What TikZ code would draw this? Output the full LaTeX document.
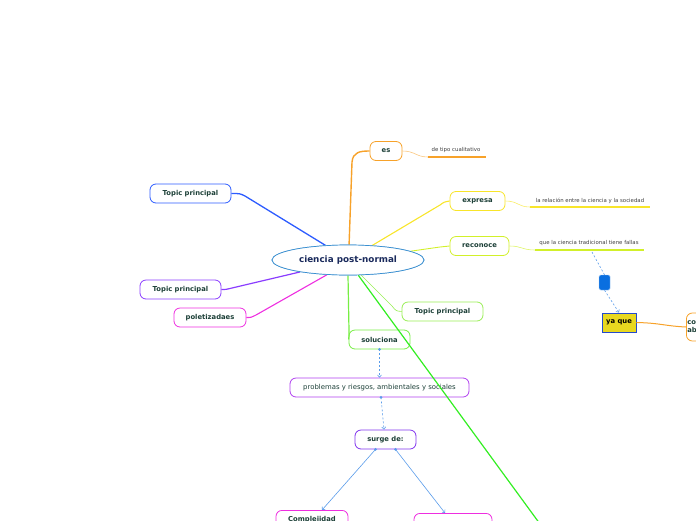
\documentclass[tikz,border=0pt]{standalone}
\usepackage{fontspec}
\setmainfont{DejaVu Sans}
\usetikzlibrary{shapes.geometric,arrows.meta}
\definecolor{txt}{HTML}{1D4038}
\definecolor{navy}{HTML}{1A2A5C}
\definecolor{cblue}{HTML}{3A8FD0}
\definecolor{corange}{HTML}{F7A22A}
\definecolor{cyellow}{HTML}{F8E52A}
\definecolor{clime}{HTML}{D2F02A}
\definecolor{ctblue}{HTML}{2D5CFF}
\definecolor{cpurple}{HTML}{8A3CFF}
\definecolor{cmag}{HTML}{EE2EE0}
\definecolor{cgreenl}{HTML}{99EE55}
\definecolor{cgreen}{HTML}{77EE44}
\definecolor{cgreenb}{HTML}{33EE22}
\definecolor{cviolet}{HTML}{B03FF0}
\definecolor{cviolet2}{HTML}{8033EE}
\definecolor{dblue}{HTML}{5A9CEA}
\definecolor{bbfill}{HTML}{0A6FE0}
\definecolor{ybox}{HTML}{E8D820}
\tikzset{
  topic/.style={draw, rounded corners=6pt, line width=0.8pt, fill=white, minimum height=19pt,
    inner sep=1pt, font=\fontsize{6.8}{8}\selectfont\bfseries, text=txt},
  desc/.style={inner sep=0pt, font=\fontsize{5.4}{6.5}\selectfont, text=black!75},
  centre/.style={ellipse, draw=cblue, line width=0.7pt, fill=white, minimum width=152pt, minimum height=30pt,
    inner sep=0pt, font=\fontsize{8.8}{10}\selectfont\bfseries, text=navy},
  dconn/.style={draw=dblue, dashed, dash pattern=on 2pt off 2pt, line width=0.6pt},
  dotmark/.style={circle, fill=dblue, inner sep=0pt, minimum size=3pt},
  tiparrow/.style={-{Straight Barb[length=2.2pt,width=4pt]}}
}
\begin{document}
\begin{tikzpicture}[x=1pt,y=-1pt]
\useasboundingbox (0,0) rectangle (696,520);
\clip (0,0) rectangle (696,520);
\node[centre] (c) at (348,260) {ciencia post-normal};
\node[topic, draw=corange, minimum width=32pt] (es) at (386,151) {es};
\node[topic, draw=cyellow, minimum width=55pt] (ex) at (477.5,201) {expresa};
\node[topic, draw=clime, minimum width=59pt] (re) at (479.5,246) {reconoce};
\node[topic, draw=ctblue, minimum width=81pt] (tp1) at (190.5,193.5) {Topic principal};
\node[topic, draw=cpurple, minimum width=81pt] (tp2) at (180.5,289.5) {Topic principal};
\node[topic, draw=cmag, minimum width=72pt] (pol) at (210,317.5) {poletizadaes};
\node[topic, draw=cgreenl, minimum width=81pt] (tp3) at (442.5,311.5) {Topic principal};
\node[topic, draw=cgreen, minimum width=61pt] (sol) at (379.5,339.5) {soluciona};
\node[topic, draw=cviolet, minimum width=179pt, font=\fontsize{6.9}{8}\selectfont] (prob) at (379.5,387.5) {problemas y riesgos, ambientales y sociales};
\node[topic, draw=cviolet2, minimum width=61pt] (sur) at (385.5,439.5) {surge de:};
\node[topic, draw=cmag, minimum width=72pt, anchor=north] (comp) at (312,510) {Complejidad};
\node[topic, draw=cmag, minimum width=78pt, anchor=north] (oth) at (453,513) {};
\node[draw=ctblue!80!black, line width=0.8pt, fill=ybox, minimum width=34pt, minimum height=19pt, inner sep=1pt,
  font=\fontsize{6.8}{8}\selectfont\bfseries, text=black] (yq) at (619,322.5) {ya que};
\node[topic, draw=corange, anchor=west, minimum height=28pt, text width=60pt, align=left,
  font=\fontsize{6.8}{8}\selectfont\bfseries] (co) at (686,327) {co\\ab};
\node[draw=dblue!60, fill=bbfill, rounded corners=1.5pt, minimum width=11pt, minimum height=15pt, inner sep=0pt] (bb) at (604.5,282.5) {};
% descriptions
\node[desc] (d1) at (456,150.5) {de tipo cualitativo};
\node[desc] (d2) at (590,201) {la relación entre la ciencia y la sociedad};
\node[desc] (d3) at (589,243.5) {que la ciencia tradicional tiene fallas};
\coordinate (u1a) at (428,157); \coordinate (u1b) at (486,157);
\coordinate (u2a) at (530,207); \coordinate (u2b) at (650,207);
\coordinate (u3a) at (535,250); \coordinate (u3b) at (644,250);
\coordinate (u3m) at (592,252);
\coordinate (offg) at (540,524);
% branch lines
\draw[corange, line width=1.4pt] (c.86) -- (352,162) .. controls (353,152) and (360,151) .. (es.west);
\draw[cyellow, line width=1.1pt] (c.31) -- (440,205) .. controls (444,202) .. (ex.west);
\draw[clime, line width=0.9pt] (c.8) -- (440,247) .. controls (445,246) .. (re.west);
\draw[ctblue, line width=1.3pt] (c.147) -- (245,196) .. controls (240,193.5) .. (tp1.east);
\draw[cpurple, line width=1.2pt] (c.194) -- (232,288) .. controls (226,289.5) .. (tp2.east);
\draw[cmag, line width=1.1pt] (c.215) -- (256,315) .. controls (251,317.5) .. (pol.east);
\draw[cgreenl, line width=0.6pt] (c.-49) -- (392,306) .. controls (396,311) .. (tp3.west);
\draw[cgreen, line width=1.2pt] (c.-90) -- (349,331) .. controls (349,337) .. (sol.west);
\draw[cgreenb, line width=1.2pt] (c.-56) -- (offg);
\node[centre] (c2) at (348,260) {ciencia post-normal};
% sub lines
\draw[corange!60, line width=0.6pt] (es.east) .. controls (415,151) and (416,157) .. (u1a);
\draw[corange, line width=1.2pt] (u1a) -- (u1b);
\draw[cyellow!70, line width=0.6pt] (ex.east) .. controls (518,201) and (518,207) .. (u2a);
\draw[cyellow, line width=1.2pt] (u2a) -- (u2b);
\draw[clime!70, line width=0.6pt] (re.east) .. controls (522,246) and (522,250) .. (u3a);
\draw[clime, line width=1.2pt] (u3a) -- (u3b);
\draw[corange, line width=1pt] (yq.east) .. controls (660,323) and (665,326) .. (co.west);
% dashed
\draw[dconn] (u3m) -- (bb.north);
\draw[dconn, tiparrow] (bb.south) -- (yq.north);
\draw[dconn, tiparrow] (sol.south) -- (prob.north);
\node[dotmark] (m1) at (sol.south) {};
\draw[dconn, tiparrow] ([xshift=1.5pt]prob.south) -- ([xshift=-1.5pt]sur.north);
\node[dotmark] (m2) at ([xshift=1.5pt]prob.south) {};
\draw[dblue, line width=0.6pt, tiparrow] ([xshift=-10pt]sur.south) -- ([xshift=10pt]comp.north);
\node[dotmark] (m3) at ([xshift=-10pt]sur.south) {};
\draw[dblue, line width=0.6pt, tiparrow] ([xshift=10pt]sur.south) -- ([xshift=-8pt]oth.north);
\node[dotmark] (m4) at ([xshift=10pt]sur.south) {};
\end{tikzpicture}
\end{document}
